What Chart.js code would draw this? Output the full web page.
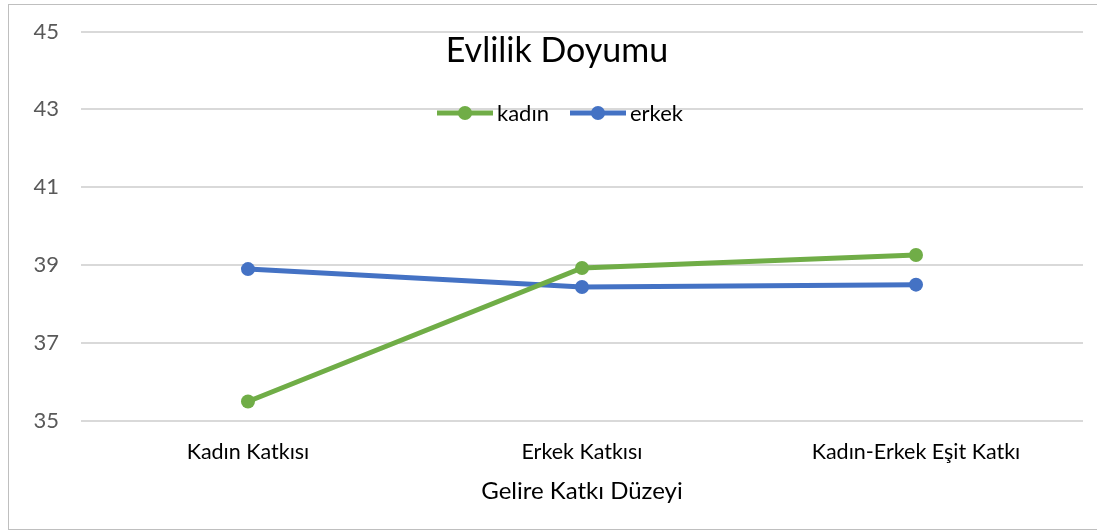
<!DOCTYPE html>
<html><head><meta charset="utf-8">
<script src="https://cdn.jsdelivr.net/npm/chart.js@4"></script>
<style>
html,body{margin:0;padding:0;background:#fff;}
#wrap{position:absolute;left:0;top:0;width:1097px;height:532px;}
#frame{position:absolute;left:8px;top:4px;width:1090px;height:526px;border:1.5px solid #bfbfbf;box-sizing:border-box;pointer-events:none;}
</style></head><body>
<div id="wrap"><canvas id="c" width="1097" height="532"></canvas></div>
<div id="frame"></div>
<script>
const categories = ["Kadın Katkısı", "Erkek Katkısı", "Kadın-Erkek Eşit Katkı"];
const kadinValues = [35.5, 38.93, 39.26];
const erkekValues = [38.9, 38.44, 38.5];
const seriesNames = ["kadın", "erkek"];
const chartTitle = "Evlilik Doyumu";
const xAxisTitle = "Gelire Katkı Düzeyi";
const yMin = 35, yMax = 45, yStep = 2;

const GREEN = "#70AD47", BLUE = "#4472C4";
const FONT = "Lato, 'Open Sans', sans-serif";

const overlay = {
  id: 'overlay',
  afterDraw(chart) {
    const ctx = chart.ctx;
    ctx.save();
    ctx.fillStyle = "#000";
    ctx.font = "34px " + FONT;
    ctx.textAlign = "center";
    ctx.textBaseline = "middle";
    ctx.fillText(chartTitle, 557, 51);
    // legend
    const items = [
      {name: seriesNames[0], color: GREEN, x0: 437},
      {name: seriesNames[1], color: BLUE, x0: 570}
    ];
    const y = 113;
    ctx.font = "22px " + FONT;
    ctx.textAlign = "left";
    for (const it of items) {
      ctx.strokeStyle = it.color;
      ctx.lineWidth = 5;
      ctx.beginPath();
      ctx.moveTo(it.x0, y);
      ctx.lineTo(it.x0 + 56, y);
      ctx.stroke();
      ctx.fillStyle = it.color;
      ctx.beginPath();
      ctx.arc(it.x0 + 28, y, 7, 0, Math.PI * 2);
      ctx.fill();
      ctx.fillStyle = "#000";
      ctx.fillText(it.name, it.x0 + 60, y + 1);
    }
    ctx.restore();
  }
};

new Chart(document.getElementById('c'), {
  type: 'line',
  data: {
    labels: categories,
    datasets: [
      {label: seriesNames[0], data: kadinValues, borderColor: GREEN, backgroundColor: GREEN,
       borderWidth: 5, pointRadius: 7, pointHoverRadius: 7, pointBorderWidth: 0, tension: 0},
      {label: seriesNames[1], data: erkekValues, borderColor: BLUE, backgroundColor: BLUE,
       borderWidth: 5, pointRadius: 7, pointHoverRadius: 7, pointBorderWidth: 0, tension: 0}
    ]
  },
  options: {
    responsive: false,
    animation: false,
    layout: {padding: {left: 0, right: 14, top: 31.5, bottom: 0}},
    plugins: {legend: {display: false}, title: {display: false}, tooltip: {enabled: false}},
    scales: {
      x: {
        offset: true,
        grid: {display: false, drawTicks: false},
        border: {display: false},
        ticks: {color: "#000", font: {family: FONT, size: 21.5}, padding: 18, maxRotation: 0},
        title: {display: true, text: xAxisTitle, color: "#000", font: {family: FONT, size: 24}, padding: {top: 0, bottom: 26}},
        afterFit(s) { s.height = 111; }
      },
      y: {
        min: yMin, max: yMax,
        grid: {color: "#d9d9d9", lineWidth: 2, drawTicks: false},
        border: {display: false},
        ticks: {stepSize: yStep, color: "#595959", font: {family: FONT, size: 22}, padding: 22},
        afterFit(s) { s.width = 81; s.paddingTop = 0; s.paddingBottom = 0; }
      }
    }
  },
  plugins: [overlay]
});
</script>
</body></html>
